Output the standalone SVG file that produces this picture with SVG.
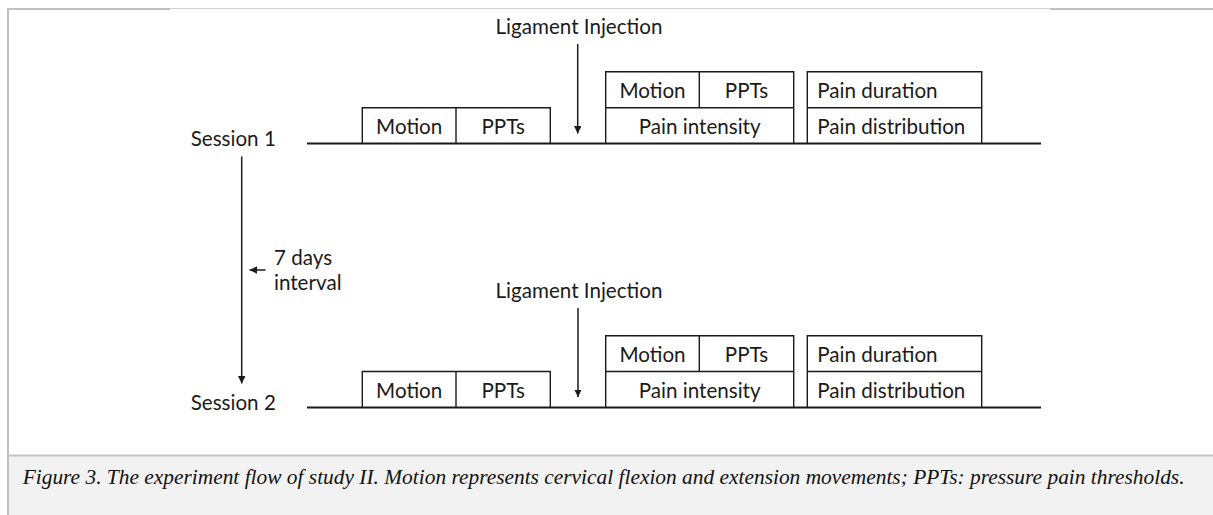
<svg xmlns="http://www.w3.org/2000/svg" width="1213" height="515" viewBox="0 0 1213 515">
  <style>
    .lbl { font-family: Lato, "Open Sans", sans-serif; font-size: 20.6px; fill: #1a1a1a; }
    .mid { text-anchor: middle; }
    .box { fill: none; stroke: #1a1a1a; stroke-width: 1.4; }
    .tl { stroke: #1a1a1a; stroke-width: 2; fill: none; }
    .arr { stroke: #1a1a1a; stroke-width: 1.5; fill: none; }
    .cap { font-family: "Liberation Serif", "Times New Roman", serif; font-style: italic; font-size: 21.4px; fill: #111; }
  </style>
  <defs>
    <marker id="ah" viewBox="0 0 10 10" refX="10" refY="5" markerWidth="5" markerHeight="5" orient="auto" markerUnits="strokeWidth">
      <path d="M0,0 L10,5 L0,10 Z" fill="#1a1a1a"/>
    </marker>
  </defs>

  <!-- page frame -->
  <rect x="0" y="0" width="1213" height="515" fill="#ffffff"/>
  <rect x="9" y="456" width="1204" height="59" fill="#f2f2f2"/>
  <line x1="9" y1="455.5" x2="1213" y2="455.5" stroke="#c4c4c4" stroke-width="2"/>
  <line x1="8" y1="8.5" x2="1213" y2="8.5" stroke="#d0d0d0" stroke-width="1"/>
  <line x1="8" y1="9" x2="170" y2="9" stroke="#c0c0c0" stroke-width="2"/>
  <line x1="1050" y1="9" x2="1213" y2="9" stroke="#c0c0c0" stroke-width="2"/>
  <line x1="8" y1="8" x2="8" y2="515" stroke="#c0c0c0" stroke-width="2"/>

  <!-- connectors -->
  <g id="connectors">
    <line class="tl" x1="307" y1="143.5" x2="1041" y2="143.5"/>
    <line class="tl" x1="307" y1="407.5" x2="1041" y2="407.5"/>
    <line class="arr" x1="577.7" y1="44" x2="577.7" y2="133.5" marker-end="url(#ah)"/>
    <line class="arr" x1="578" y1="308" x2="578" y2="397" marker-end="url(#ah)"/>
    <line class="arr" x1="241.7" y1="156.5" x2="241.7" y2="383.5" marker-end="url(#ah)"/>
    <line class="arr" x1="265.5" y1="270" x2="249.5" y2="270" marker-end="url(#ah)"/>
  </g>

  <!-- labels -->
  <g id="session1-label"><text class="lbl" x="190.7" y="145.5">Session 1</text></g>
  <g id="session2-label"><text class="lbl" x="190.7" y="409.5">Session 2</text></g>
  <g id="interval-label">
    <text class="lbl" x="274" y="265">7 days</text>
    <text class="lbl" x="274" y="289.5">interval</text>
  </g>
  <g id="injection1"><text class="lbl mid" x="579" y="34">Ligament Injection</text></g>
  <g id="injection2"><text class="lbl mid" x="579" y="298">Ligament Injection</text></g>

  <!-- Session 1 -->
  <g id="s1-pre">
    <path class="box" d="M362.3,143.5 V107.7 H550.3 V143.5 M456,107.7 V143.5"/>
    <text class="lbl mid" x="409.2" y="133.5">Motion</text>
    <text class="lbl mid" x="503.2" y="133.5">PPTs</text>
  </g>
  <g id="s1-post">
    <path class="box" d="M605.7,143.5 V71.7 H793.7 V143.5 M605.7,107.7 H793.7 M699.3,71.7 V107.7"/>
    <text class="lbl mid" x="652.5" y="97.5">Motion</text>
    <text class="lbl mid" x="746.5" y="97.5">PPTs</text>
    <text class="lbl mid" x="699.7" y="133.5">Pain intensity</text>
  </g>
  <g id="s1-pain">
    <path class="box" d="M807.3,143.5 V71.7 H981.7 V143.5 M807.3,107.7 H981.7"/>
    <text class="lbl" x="817.3" y="97.5">Pain duration</text>
    <text class="lbl" x="817.3" y="133.5">Pain distribution</text>
  </g>

  <!-- Session 2 -->
  <g id="s2-pre">
    <path class="box" d="M362.3,407.5 V371.5 H550.3 V407.5 M456,371.5 V407.5"/>
    <text class="lbl mid" x="409.2" y="397.5">Motion</text>
    <text class="lbl mid" x="503.2" y="397.5">PPTs</text>
  </g>
  <g id="s2-post">
    <path class="box" d="M605.7,407.5 V335.7 H793.7 V407.5 M605.7,371.5 H793.7 M699.3,335.7 V371.5"/>
    <text class="lbl mid" x="652.5" y="361.5">Motion</text>
    <text class="lbl mid" x="746.5" y="361.5">PPTs</text>
    <text class="lbl mid" x="699.7" y="397.5">Pain intensity</text>
  </g>
  <g id="s2-pain">
    <path class="box" d="M807.3,407.5 V335.7 H981.7 V407.5 M807.3,371.5 H981.7"/>
    <text class="lbl" x="817.3" y="361.5">Pain duration</text>
    <text class="lbl" x="817.3" y="397.5">Pain distribution</text>
  </g>

  <!-- caption -->
  <g id="caption">
    <text class="cap" x="22.7" y="484">Figure 3. The experiment flow of study II. Motion represents cervical flexion and extension movements; PPTs: pressure pain thresholds.</text>
  </g>
</svg>
